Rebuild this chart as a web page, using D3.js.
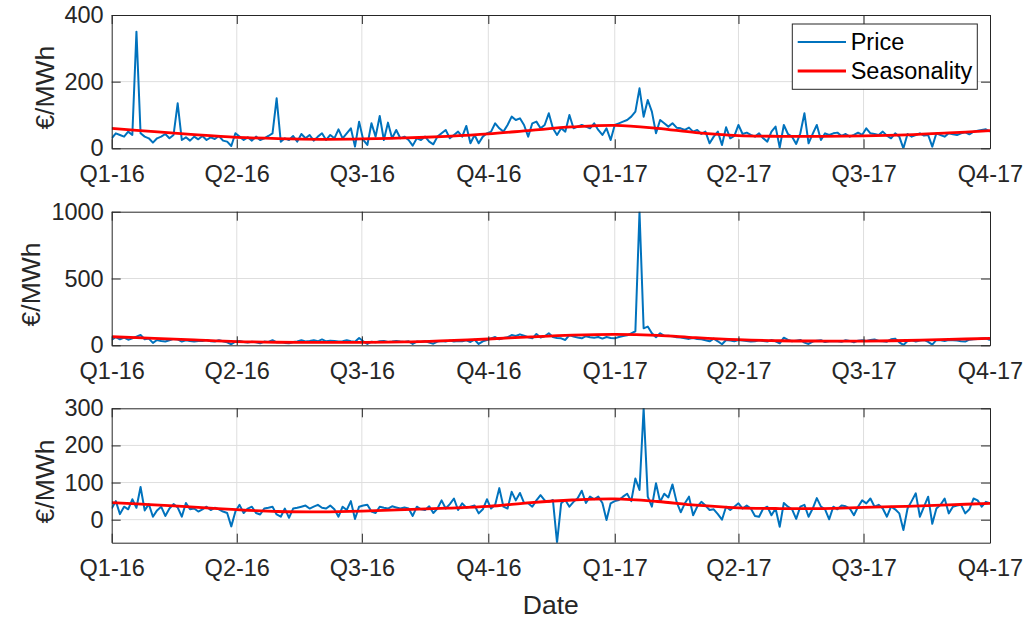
<!DOCTYPE html>
<html>
<head>
<meta charset="utf-8">
<script src="https://cdn.jsdelivr.net/npm/d3@7"></script>
<style>
  html, body { margin: 0; padding: 0; background: #fff; }
  svg { display: block; font-family: "Liberation Sans", Arial, Helvetica, sans-serif; }
</style>
</head>
<body>
<svg id="chart" width="1029" height="622"></svg>
<script>
// Quarter tick labels along the date axis
const quarterLabels = ["Q1-16", "Q2-16", "Q3-16", "Q4-16", "Q1-17", "Q2-17", "Q3-17", "Q4-17"];

// Price series: one value every 3 days, starting 1 Jan 2016 (€/MWh)
const priceTop = [
  30,45,40,35,50,40,350,45,35,30,
  17,30,35,43,30,40,135,25,33,23,
  35,27,37,25,33,28,37,23,20,7,
  45,35,25,33,23,35,25,30,37,45,
  150,20,30,25,37,20,43,30,40,23,
  35,45,25,40,30,57,30,45,60,5,
  80,25,10,75,35,97,25,77,30,55,
  30,35,25,8,30,25,35,20,12,35,
  45,55,30,40,50,35,67,15,40,15,
  35,45,50,75,60,50,70,95,85,90,
  70,35,75,80,60,70,105,60,40,60,
  50,100,60,65,70,65,60,75,55,40,
  60,25,70,75,80,85,95,110,180,95,
  145,110,45,85,75,65,75,62,60,55,
  62,50,55,43,50,15,
  35,50,10,63,30,37,70,43,47,40,
  35,45,30,20,50,65,2,70,43,35,
  13,45,105,15,43,70,25,45,40,45,
  47,37,43,35,40,47,40,60,45,43,
  40,50,38,30,45,35,0,43,35,40,
  45,38,40,5,45,40,35,45,42,40,
  45,48,42,50,53,55,57,50
];

const priceMiddle = [
  40,62,45,57,42,52,65,77,45,50,
  18,40,32,28,38,48,45,28,38,32,
  28,33,32,40,30,28,38,30,22,8,
  27,32,25,20,27,22,15,28,25,38,
  22,25,18,15,24,28,38,28,32,38,
  30,44,30,35,33,28,30,38,30,27,
  55,30,10,27,22,30,33,25,28,32,
  28,25,30,10,28,25,30,20,12,28,
  32,28,35,28,33,30,38,25,42,10,
  30,40,52,62,45,55,60,77,70,82,
  72,60,52,85,58,68,90,62,55,52,
  40,77,65,58,52,68,60,57,62,50,
  62,55,52,62,70,75,90,105,1000,127,
  140,90,60,90,70,72,68,60,58,52,
  48,55,47,45,38,30,
  50,30,8,40,35,30,40,35,33,28,
  30,38,32,28,40,30,15,57,40,30,
  35,40,20,10,28,35,38,25,30,32,
  30,27,38,33,22,35,38,32,40,44,
  32,30,27,45,50,22,3,32,40,28,
  35,40,25,5,40,38,32,40,37,35,
  30,28,42,45,47,50,52,40
];

const priceBottom = [
  30,50,15,35,28,55,32,88,25,42,
  8,25,35,10,30,42,33,8,45,28,
  30,22,28,35,26,32,28,22,18,-18,
  22,40,18,30,35,18,14,30,32,35,
  14,8,30,5,30,32,35,38,30,35,
  40,32,30,38,28,8,35,26,50,2,
  35,38,40,22,18,35,32,30,36,33,
  30,33,30,10,35,28,26,36,18,30,
  52,30,42,57,26,44,32,35,38,17,
  28,55,30,40,85,35,30,75,52,72,
  45,44,35,52,66,52,48,53,-62,44,
  53,35,48,58,78,45,62,55,62,45,
  -1,44,50,53,62,70,50,111,80,300,
  62,35,98,48,70,60,95,48,20,44,
  62,12,35,48,38,26,
  28,15,0,35,26,35,44,30,38,30,
  10,8,30,35,12,30,-19,45,35,28,
  2,35,40,8,30,58,35,28,1,35,
  28,38,36,30,12,35,52,44,57,35,
  40,30,8,35,28,17,-28,30,50,71,
  8,35,62,-11,30,40,57,17,35,38,
  40,17,28,57,52,35,48,44
];

// Seasonal component, first day of each month Jan 2016 .. Oct 2017 (€/MWh)
const seasonTop    = [60, 50, 41, 33, 29, 27, 28, 31, 36, 43, 54, 64, 69, 60, 47, 38, 36, 36, 37, 40, 46, 53];
const seasonMiddle = [64, 52, 40, 28, 23, 22, 22, 25, 35, 47, 63, 76, 82, 75, 57, 42, 34, 32, 32, 36, 44, 52];
const seasonBottom = [46, 40, 34, 27, 22, 21, 23, 27, 31, 36, 46, 53, 56, 49, 39, 32, 30, 30, 33, 36, 40, 44];

// Value-axis ticks and limits of each panel
const yTicksTop    = [0, 200, 400];
const yTicksMiddle = [0, 500, 1000];
const yTicksBottom = [0, 100, 200, 300];
const yRangeTop    = [0, 400];
const yRangeMiddle = [0, 1000];
const yRangeBottom = [-62, 300];

const seriesLabels = ["Price", "Seasonality"];

// ---------------------------------------------------------------------------
const DAY = 864e5;
const start = new Date(Date.UTC(2016, 0, 1));
const end = new Date(Date.UTC(2017, 9, 1));
const stepDays = 3;

const axisColor = "#262626";
const gridColor = "#dedede";
const priceColor = "#0072BD";
const seasonColor = "#FF0000";
const tickFont = 23.5;
const labelFont = 26.5;

const svg = d3.select("#chart");
const plotLeft = 111.7, plotRight = 990;

const x = d3.scaleUtc().domain([start, end]).range([plotLeft, plotRight]);
const quarterDates = d3.utcMonth.every(3).range(start, new Date(end.getTime() + DAY));
const monthDates = d3.utcMonth.range(start, new Date(Date.UTC(2017, 10, 1)));

const panels = [
  { top: 15,    bottom: 148.3, domain: yRangeTop,    ticks: yTicksTop,    price: priceTop,    season: seasonTop,    labelX: 54, legend: true },
  { top: 211.7, bottom: 345.3, domain: yRangeMiddle, ticks: yTicksMiddle, price: priceMiddle, season: seasonMiddle, labelX: 40 },
  { top: 408.3, bottom: 542.7, domain: yRangeBottom, ticks: yTicksBottom, price: priceBottom, season: seasonBottom, labelX: 54 }
];

function styleAxis(g, showText) {
  g.attr("font-family", null).attr("font-size", null);
  g.selectAll("path.domain").attr("stroke", axisColor).attr("stroke-width", 1);
  g.selectAll(".tick line").attr("stroke", axisColor).attr("stroke-width", 1);
  g.selectAll(".tick text")
    .attr("fill", axisColor)
    .style("font-size", tickFont + "px")
    .style("display", showText ? null : "none");
}

panels.forEach((p, k) => {
  const y = d3.scaleLinear().domain(p.domain).range([p.bottom, p.top]);
  const g = svg.append("g");

  const clipId = "clip" + k;
  svg.append("clipPath").attr("id", clipId)
    .append("rect")
    .attr("x", plotLeft).attr("y", p.top)
    .attr("width", plotRight - plotLeft).attr("height", p.bottom - p.top);

  // grid
  g.append("g").selectAll("line").data(quarterDates.slice(1, -1)).join("line")
    .attr("x1", d => x(d)).attr("x2", d => x(d))
    .attr("y1", p.top).attr("y2", p.bottom)
    .attr("stroke", gridColor).attr("stroke-width", 1);
  g.append("g").selectAll("line").data(p.ticks.filter(t => t > p.domain[0] && t < p.domain[1])).join("line")
    .attr("x1", plotLeft).attr("x2", plotRight)
    .attr("y1", d => y(d)).attr("y2", d => y(d))
    .attr("stroke", gridColor).attr("stroke-width", 1);

  // series
  const pricePts = p.price.map((v, i) => [new Date(start.getTime() + i * stepDays * DAY), v]);
  const seasonPts = p.season.map((v, i) => [monthDates[i], v]);

  const data = g.append("g").attr("clip-path", `url(#${clipId})`);
  data.append("path")
    .datum(pricePts)
    .attr("fill", "none")
    .attr("stroke", priceColor)
    .attr("stroke-width", 2)
    .attr("stroke-linejoin", "round")
    .attr("d", d3.line().x(d => x(d[0])).y(d => y(d[1])));
  data.append("path")
    .datum(seasonPts)
    .attr("fill", "none")
    .attr("stroke", seasonColor)
    .attr("stroke-width", 2.8)
    .attr("d", d3.line().curve(d3.curveCatmullRom).x(d => x(d[0])).y(d => y(d[1])));

  // box axes with inward ticks
  g.append("g").attr("transform", `translate(0,${p.bottom})`)
    .call(d3.axisBottom(x).tickValues(quarterDates).tickFormat((d, i) => quarterLabels[i])
      .tickSize(-9).tickSizeOuter(0).tickPadding(17))
    .call(a => styleAxis(a, true));
  g.append("g").attr("transform", `translate(0,${p.top})`)
    .call(d3.axisTop(x).tickValues(quarterDates).tickFormat("").tickSize(-9).tickSizeOuter(0))
    .call(a => styleAxis(a, false));
  g.append("g").attr("transform", `translate(${plotLeft},0)`)
    .call(d3.axisLeft(y).tickValues(p.ticks).tickFormat(d3.format("d")).tickSize(-9).tickSizeOuter(0).tickPadding(8))
    .call(a => styleAxis(a, true));
  g.append("g").attr("transform", `translate(${plotRight},0)`)
    .call(d3.axisRight(y).tickValues(p.ticks).tickFormat("").tickSize(-9).tickSizeOuter(0))
    .call(a => styleAxis(a, false));

  // value-axis label
  g.append("text")
    .attr("transform", `translate(${p.labelX},${(p.top + p.bottom) / 2 + 6}) rotate(-90)`)
    .attr("text-anchor", "middle")
    .attr("fill", axisColor)
    .style("font-size", labelFont + "px")
    .text("€/MWh");

  if (p.legend) {
    const lg = g.append("g").attr("transform", "translate(792.3,24)");
    lg.append("rect").attr("width", 185).attr("height", 65.3)
      .attr("fill", "#fff").attr("stroke", axisColor).attr("stroke-width", 1);
    [priceColor, seasonColor].forEach((c, j) => {
      const yy = 18 + j * 29;
      lg.append("line").attr("x1", 5.4).attr("x2", 53.7).attr("y1", yy).attr("y2", yy)
        .attr("stroke", c).attr("stroke-width", j ? 2.8 : 2);
      lg.append("text").attr("x", 58.4).attr("y", yy).attr("dy", "0.35em")
        .attr("fill", "#000").style("font-size", "23.5px").text(seriesLabels[j]);
    });
  }
});

// shared date-axis label
svg.append("text")
  .attr("x", (plotLeft + plotRight) / 2).attr("y", 614)
  .attr("text-anchor", "middle")
  .attr("fill", axisColor)
  .style("font-size", labelFont + "px")
  .text("Date");
</script>
</body>
</html>
